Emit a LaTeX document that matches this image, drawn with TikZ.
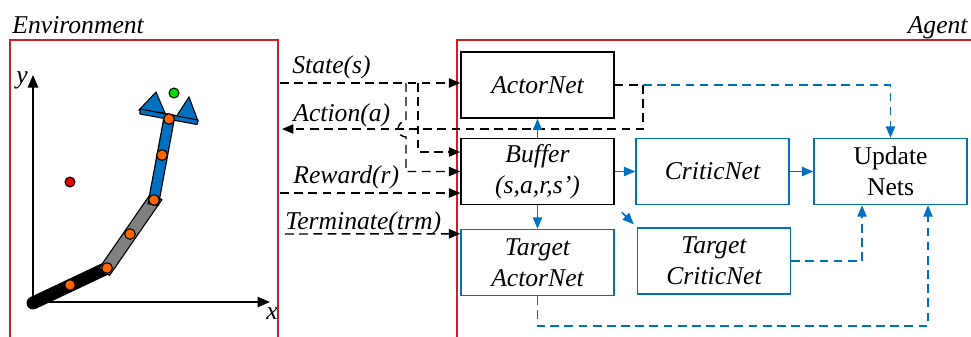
\documentclass[tikz,border=0pt]{standalone}
\usepackage{fontspec}
\setmainfont{Liberation Serif}
\usepackage{tikz}
\usetikzlibrary{arrows.meta,calc}

\definecolor{netblue}{RGB}{0,112,192}
\definecolor{framered}{RGB}{204,32,40}
\definecolor{jointorange}{RGB}{255,102,0}

\tikzset{
  net/.style={draw, line width=0.7pt, minimum width=73.4pt, minimum height=31.7pt,
    inner sep=0pt, align=center, font=\fontsize{12.3}{15}\selectfont\itshape},
  bluenet/.style={net, draw=netblue},
  frame/.style={draw=framered, line width=0.7pt},
  sig/.style={anchor=base west, inner sep=0pt, font=\fontsize{12.3}{15}\selectfont\itshape},
  flow/.style={->, line width=0.7pt, dash pattern=on 4.2pt off 2.6pt},
  blueflow/.style={flow, color=netblue},
  feed/.style={->, line width=0.7pt, color=netblue},
  linkout/.style={line width=6.6pt, shorten <=-2.5pt, shorten >=-2.5pt},
  linkin/.style={line width=5.4pt, shorten <=-1.9pt, shorten >=-1.9pt},
  joint/.style={draw, line width=0.5pt, fill=jointorange},
}

\begin{document}
\begin{tikzpicture}[x=0.48pt, y=-0.48pt, >={Triangle[length=5.5pt,width=4.5pt]}]
  \useasboundingbox (0,0) rectangle (971,336);

  % the two frames
  \draw[frame] (10,40) rectangle (278,350);
  \draw[frame] (457,40) rectangle (990,350);
  \node[sig] (envlabel) at (12,33) {Environment};
  \node[sig, anchor=base east] (agentlabel) at (968,33) {Agent};

  % workspace axes
  \coordinate (o) at (33,302);
  \coordinate (xend) at (270,302);
  \coordinate (yend) at (33,75);
  \draw[->, line width=0.7pt, >={Triangle[length=6pt,width=5pt]}] (o) -- (xend);
  \draw[->, line width=0.7pt, >={Triangle[length=6pt,width=5pt]}] (o) -- (yend);
  \node[font=\fontsize{12.3}{15}\selectfont\itshape] (xlab) at (272,314) {x};
  \node[font=\fontsize{12.3}{15}\selectfont\itshape] (ylab) at (22,80) {y};

  % goal and obstacle
  \draw[line width=0.5pt, fill=red!90!black] (70,182) circle[radius=5];
  \draw[line width=0.5pt, fill=green!85!black] (174,93) circle[radius=5];

  % arm links
  \coordinate (j0) at (33,303);
  \coordinate (j1) at (107,268);
  \coordinate (j2) at (154,200);
  \coordinate (j3) at (169,119);
  \draw[line width=6.2pt, line cap=round] (j0) -- (j1);
  \draw[linkout] (j1) -- (j2);
  \draw[linkin, gray] (j1) -- (j2);
  \draw[linkout, line width=5.6pt] (j2) -- (j3);
  \draw[linkin, line width=4.4pt, netblue] (j2) -- (j3);

  % gripper
  \draw[line width=0.5pt, fill=netblue] (139,110) -- (156,92) -- (165,113) -- cycle;
  \draw[line width=0.5pt, fill=netblue] (176,117) -- (189,97) -- (198,121) -- cycle;
  \draw[line width=0.5pt, fill=netblue] (140,109) -- (198,120) -- (197,124.5) -- (140,114) -- cycle;

  % joints
  \foreach \p in {(70,285),(107,268),(130,234),(154,200),(162,155),(169,119)}
    \draw[joint] \p circle[radius=5.3];

  % agent networks
  \node[net] (ActorNet) at (537.5,85) {ActorNet};
  \node[net] (Buffer) at (537.5,171.5) {Buffer\\(s,a,r,s’)};
  \node[bluenet] (CriticNet) at (712.5,171.5) {CriticNet};
  \node[bluenet, font=\fontsize{12.3}{15}\selectfont] (Update) at (890.5,171.5) {Update\\Nets};
  \node[bluenet] (TActor) at (537.5,262.5) {Target\\ActorNet};
  \node[bluenet] (TCritic) at (714,261) {Target\\CriticNet};

  % signals between environment and agent
  \coordinate (s0) at (280,83);
  \coordinate (a0) at (282,129);
  \coordinate (r0) at (280,193);
  \coordinate (t0) at (285,234);
  \coordinate (b1) at (406,83);
  \coordinate (b2) at (418,83);
  \coordinate (turn) at (643,85);

  \node[sig] (lstate) at (292,73) {State(s)};
  \node[sig] (laction) at (293,121) {Action(a)};
  \node[sig] (lreward) at (293,183) {Reward(r)};
  \node[sig] (lterm) at (285,229) {Terminate(trm)};

  \draw[flow] (s0) -- (s0 -| ActorNet.west);
  \draw[flow] (b2) |- ($(Buffer.west)+(0,-19.5)$);
  \draw[flow] (b1) -- ++(0,38) arc[start angle=-90, end angle=-270, radius=8] |- (Buffer.west);
  \draw[flow] (ActorNet.east) -- (turn) |- (a0);
  \draw[flow] (r0) -- (r0 -| Buffer.west);
  \draw[flow] (t0) -- ($(TActor.north west)+(0,5)$);

  % updates inside the agent
  \draw[feed] (Buffer) -- (ActorNet);
  \draw[feed] (Buffer) -- (CriticNet);
  \draw[feed] (CriticNet) -- (Update);
  \draw[feed] (Buffer) -- (TActor);
  \draw[feed, shorten <=4.8pt, shorten >=2pt] (Buffer.south east) -- (TCritic.north west);

  \coordinate (c1) at (928,326);
  \coordinate (c2) at (862,261);
  \draw[blueflow] (turn) -| (Update.north);
  \draw[blueflow] (TCritic.east) -- (c2) -- (c2 |- Update.south);
  \draw[blueflow] (TActor.south) |- (c1) -- (c1 |- Update.south);
\end{tikzpicture}
\end{document}
